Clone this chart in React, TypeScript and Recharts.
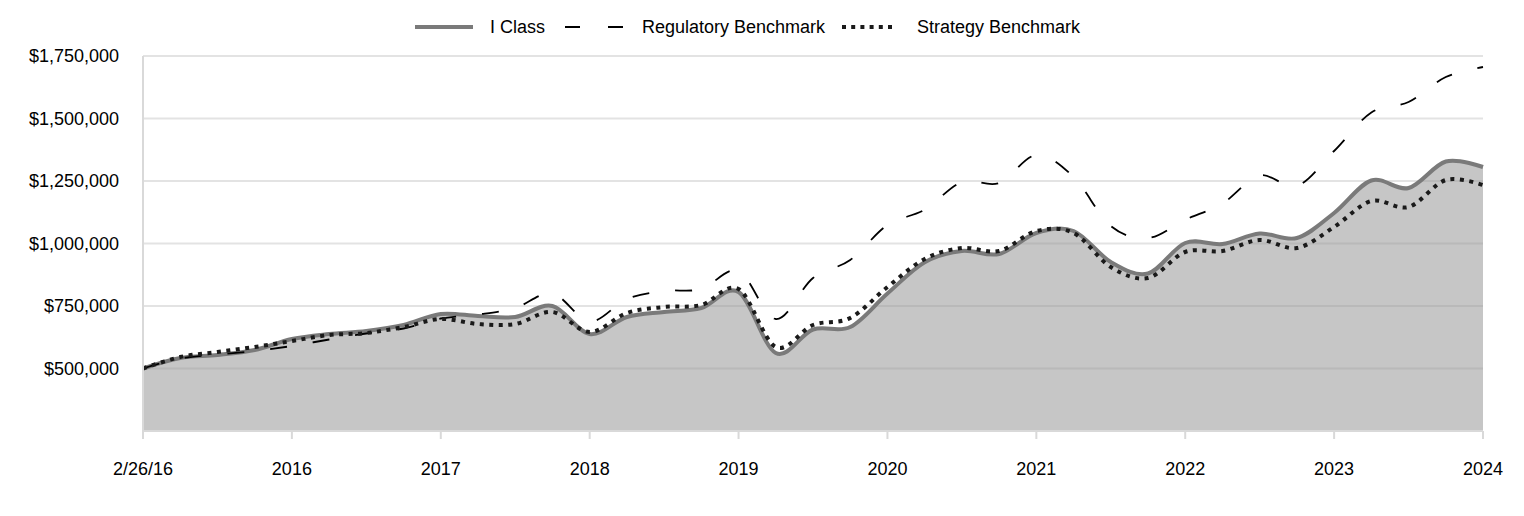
import React from 'react';
import { ComposedChart, Area, Line, XAxis, YAxis, CartesianGrid } from 'recharts';

// quarterly values, 2/26/16 through 2024
const iClass = [
  500000, 542000, 554000, 574000, 618000, 638000, 650000, 674000, 718000,
  710000, 706000, 750000, 638000, 706000, 726000, 742000, 806000, 562000,
  656000, 666000, 800000, 925000, 970000, 958000, 1042000, 1050000, 926000,
  880000, 1002000, 998000, 1040000, 1022000, 1122000, 1252000, 1222000, 1328000,
  1306000,
];
const regulatory = [
  500000, 540000, 556000, 570000, 590000, 616000, 640000, 660000, 700000,
  716000, 742000, 800000, 688000, 778000, 810000, 818000, 890000, 698000,
  862000, 934000, 1074000, 1135000, 1246000, 1242000, 1354000, 1266000, 1070000,
  1022000, 1095000, 1160000, 1272000, 1230000, 1370000, 1524000, 1566000, 1666000,
  1706000,
];
const strategy = [
  500000, 546000, 566000, 586000, 610000, 634000, 642000, 666000, 698000,
  678000, 678000, 726000, 646000, 722000, 746000, 754000, 818000, 586000,
  674000, 702000, 826000, 938000, 982000, 970000, 1050000, 1042000, 906000,
  862000, 966000, 970000, 1014000, 982000, 1066000, 1170000, 1146000, 1254000,
  1234000,
];
const xTickLabels = ['2/26/16', '2016', '2017', '2018', '2019', '2020', '2021', '2022', '2023', '2024'];
const yTicks = [500000, 750000, 1000000, 1250000, 1500000, 1750000];
const seriesNames = ['I Class', 'Regulatory Benchmark', 'Strategy Benchmark'];

const data = iClass.map((v, i) => ({ i, iClass: v, regulatory: regulatory[i], strategy: strategy[i] }));
const xTicks = xTickLabels.map((_, k) => k * 4);

const FONT = '"Liberation Sans", Arial, sans-serif';

// catmull-rom style smoothing (same as d3 curveCardinal, tension 0)
function smoothCurve(context: any) {
  const k = 1 / 6;
  const s: any = { _context: context };
  const seg = (x: number, y: number) => {
    context.bezierCurveTo(
      s._x1 + k * (s._x2 - s._x0),
      s._y1 + k * (s._y2 - s._y0),
      s._x2 + k * (s._x1 - x),
      s._y2 + k * (s._y1 - y),
      s._x2,
      s._y2,
    );
  };
  s.areaStart = () => { s._line = 0; };
  s.areaEnd = () => { s._line = NaN; };
  s.lineStart = () => {
    s._x0 = s._x1 = s._x2 = s._y0 = s._y1 = s._y2 = NaN;
    s._point = 0;
  };
  s.lineEnd = () => {
    if (s._point === 2) context.lineTo(s._x2, s._y2);
    else if (s._point === 3) seg(s._x1, s._y1);
    if (s._line || (s._line !== 0 && s._point === 1)) context.closePath();
    s._line = 1 - s._line;
  };
  s.point = (x: number, y: number) => {
    x = +x;
    y = +y;
    if (s._point === 0) {
      s._point = 1;
      if (s._line) context.lineTo(x, y);
      else context.moveTo(x, y);
    } else if (s._point === 1) {
      s._point = 2;
      s._x1 = x;
      s._y1 = y;
    } else {
      if (s._point === 2) s._point = 3;
      seg(x, y);
    }
    s._x0 = s._x1; s._x1 = s._x2; s._x2 = x;
    s._y0 = s._y1; s._y1 = s._y2; s._y2 = y;
  };
  return s;
}

const LegendIcon = ({ kind }: { kind: number }) => {
  if (kind === 0)
    return (
      <svg width={58} height={22}>
        <line x1={0} y1={11} x2={58} y2={11} stroke="#7a7a7a" strokeWidth={4} />
      </svg>
    );
  if (kind === 1)
    return (
      <svg width={58} height={22}>
        <line x1={0} y1={11} x2={58} y2={11} stroke="#000" strokeWidth={2} strokeDasharray="15 28" />
      </svg>
    );
  return (
    <svg width={50} height={22}>
      <line x1={0} y1={11} x2={50} y2={11} stroke="#1a1a1a" strokeWidth={4} strokeDasharray="4 5.2" />
    </svg>
  );
};

const ChartLegend = () => {
  const iconLeft = [407, 557, 834];
  const textLeft = [482, 634, 909];
  return (
    <div style={{ position: 'absolute', top: 8, left: 0, height: 22 }}>
      {seriesNames.map((name, k) => (
        <React.Fragment key={name}>
          <div style={{ position: 'absolute', left: iconLeft[k], top: 0, height: 22 }}>
            <LegendIcon kind={k} />
          </div>
          <div
            style={{
              position: 'absolute',
              left: textLeft[k],
              top: 0,
              lineHeight: '22px',
              fontSize: 18,
              whiteSpace: 'nowrap',
              color: '#000',
            }}
          >
            {name}
          </div>
        </React.Fragment>
      ))}
    </div>
  );
};

export default function App() {
  return (
    <div style={{ position: 'relative', width: 1508, height: 500, fontFamily: FONT }}>
      <ChartLegend />
      <ComposedChart width={1508} height={500} data={data} margin={{ top: 48, right: 33, bottom: 47, left: 0 }}>
        <CartesianGrid vertical={false} stroke="#e3e3e3" strokeWidth={2} />
        <XAxis
          type="number"
          dataKey="i"
          domain={[0, 36]}
          ticks={xTicks}
          tickFormatter={(v: number) => xTickLabels[Math.round(v / 4)]}
          height={30}
          stroke="#d9d9d9"
          strokeWidth={2}
          tickSize={8}
          tickMargin={23}
          tick={{ fill: '#000', fontSize: 18, fontFamily: FONT }}
          interval={0}
        />
        <YAxis
          domain={[250000, 1750000]}
          ticks={yTicks}
          width={135}
          stroke="#d9d9d9"
          strokeWidth={2}
          tickLine={false}
          tickMargin={18}
          tickFormatter={(v: number) => '$' + v.toLocaleString('en-US')}
          tick={{ fill: '#000', fontSize: 18, fontFamily: FONT }}
          interval={0}
        />
        <Area
          type={smoothCurve as any}
          dataKey="iClass"
          stroke="#7a7a7a"
          strokeWidth={4}
          fill="#929292"
          fillOpacity={0.52}
          isAnimationActive={false}
        />
        <Line
          type={smoothCurve as any}
          dataKey="regulatory"
          stroke="#000"
          strokeWidth={1.8}
          strokeDasharray="17 26"
          dot={false}
          isAnimationActive={false}
        />
        <Line
          type={smoothCurve as any}
          dataKey="strategy"
          stroke="#1a1a1a"
          strokeWidth={4}
          strokeDasharray="4 5.5"
          dot={false}
          isAnimationActive={false}
        />
      </ComposedChart>
    </div>
  );
}
